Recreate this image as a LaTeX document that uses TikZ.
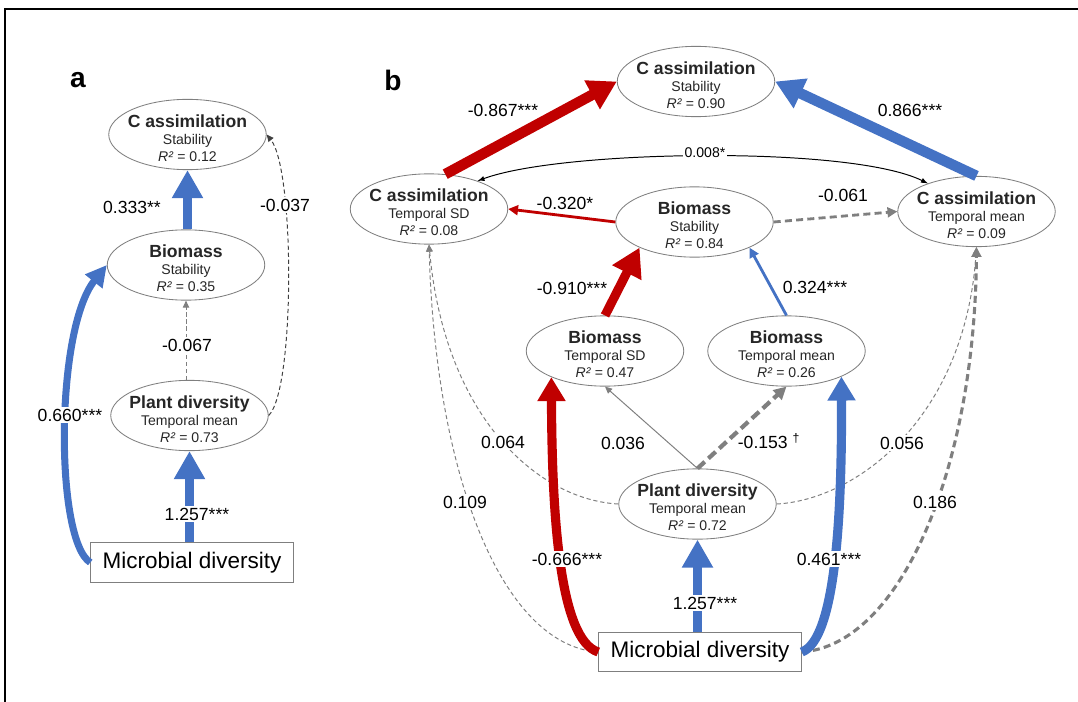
\documentclass[tikz,border=0pt]{standalone}
\usepackage{fontspec}
\setmainfont{Liberation Sans}
\usepackage{tikz}
\tikzset{>=latex}
\usetikzlibrary{arrows.meta, shapes.geometric}
\definecolor{semred}{HTML}{C00000}
\definecolor{semblue}{HTML}{4472C4}
\definecolor{semgray}{HTML}{7F7F7F}
\definecolor{semdark}{HTML}{404040}
\definecolor{semtext}{HTML}{262626}
\newcommand{\semlab}[3]{\rule{0pt}{14pt}{\bfseries\fontsize{12.5}{14}\selectfont #1}\\ #2\\ \textit{R²} = #3}
\tikzset{
	var/.style={ellipse, draw=semgray, line width=0.6pt, minimum width=112pt, minimum height=50pt,
		inner xsep=-4pt, inner ysep=-2pt, align=center, text=semtext, font=\fontsize{10}{12}\selectfont},
	exo/.style={rectangle, draw=semgray, line width=0.7pt, minimum width=144pt, minimum height=28pt,
		inner sep=0pt, font=\fontsize{16}{18}\selectfont},
	coef/.style={font=\fontsize{12.5}{14}\selectfont, inner sep=1pt},
	oncoef/.style={coef, fill=white},
	panel/.style={font=\bfseries\fontsize{20}{22}\selectfont},
	bigpos/.style={draw=semblue, line width=7pt, -{Triangle[width=21pt,length=20pt]}},
	bigneg/.style={draw=semred, line width=7.5pt, -{Triangle[width=22pt,length=20pt]}},
	curvpos/.style={draw=semblue, line width=6.5pt, -{Triangle[width=19pt,length=17pt]}},
	curvneg/.style={draw=semred, line width=6.5pt, -{Triangle[width=19pt,length=17pt]}},
	midpos/.style={draw=semblue, line width=2pt, -{Triangle[width=7pt,length=7pt]}},
	midneg/.style={draw=semred, line width=2pt, -{Triangle[width=7pt,length=7pt]}},
	midns/.style={draw=semgray, line width=2pt, dash pattern=on 5pt off 3pt, -{Triangle[width=7pt,length=7pt]}},
	thickns/.style={draw=semgray, line width=3pt, dash pattern=on 7pt off 3.5pt, -{Triangle[width=9pt,length=9pt]}},
	thinns/.style={draw=semgray, line width=0.7pt, dash pattern=on 3pt off 2pt, -{Triangle[width=4.5pt,length=5pt]}},
	thinsolid/.style={draw=semgray, line width=0.7pt, -{Triangle[width=4.5pt,length=5pt]}},
}

\begin{document}
\begin{tikzpicture}[x=0.025cm, y=-0.025cm]
	\useasboundingbox (0,0) rectangle (1078,702);
	\draw[line width=1.2pt] (1078,9) -- (5,9) -- (5,702);
	% panel a
	\node[panel] (pa) at (78,80) {a};
	\node[var] (caa) at (187.5,134.5) {\semlab{C assimilation}{Stability}{0.12}};
	\node[var] (bma) at (186,265) {\semlab{Biomass}{Stability}{0.35}};
	\node[var] (pda) at (189.5,415.5) {\semlab{Plant diversity}{Temporal mean}{0.73}};
	\node[exo] (mda) at (192,562.5) {Microbial diversity};
	\draw[bigpos] (caa.south |- bma.north) -- (caa.south);
	\draw[bigpos] (pda.south |- mda.north) -- (pda.south);
	\draw[thinns] (bma.south |- pda.north) -- (bma.south);
	\draw[thinns, draw=semdark] (pda.east) .. controls (295,390) and (295,170) .. (caa.east);
	\draw[curvpos, line width=5pt, -{Triangle[width=15pt,length=15pt]}] (mda.west) .. controls (55,540) and (55,330) .. (bma.west);
	\node[coef] (a1) at (132,207) {0.333**};
	\node[oncoef] (a2) at (187,345) {-0.067};
	\node[oncoef] (a3) at (285,205) {-0.037};
	\node[oncoef] (a4) at (70,415) {0.660***};
	\node[oncoef] (a5) at (197,514) {1.257***};
	% panel b
	\node[panel] (pb) at (393,80) {b};
	\node[var] (cas) at (696,81.5) {\semlab{C assimilation}{Stability}{0.90}};
	\node[var] (casd) at (429,209) {\semlab{C assimilation}{Temporal SD}{0.08}};
	\node[var] (bst) at (694.5,222) {\semlab{Biomass}{Stability}{0.84}};
	\node[var] (cam) at (976.5,211.5) {\semlab{C assimilation}{Temporal mean}{0.09}};
	\node[var] (bsd) at (605,351) {\semlab{Biomass}{Temporal SD}{0.47}};
	\node[var] (bmn) at (786.5,351) {\semlab{Biomass}{Temporal mean}{0.26}};
	\node[var] (pdb) at (697.5,504) {\semlab{Plant diversity}{Temporal mean}{0.72}};
	\node[exo] (mdb) at (700,652) {Microbial diversity};
	\draw[bigneg] (casd.65) -- (cas.west);
	\draw[bigpos, line width=7.5pt, -{Triangle[width=22pt,length=20pt]}] (cam.north) -- (cas.east);
	\draw[line width=0.7pt, <->] (casd.30) .. controls (560,150) and (850,145) .. (cam.150);
	\draw[midneg] (bst.west) -- (casd.east);
	\draw[midns] (bst.east) -- (cam.west);
	\draw[bigneg, line width=6.5pt] (bsd.north) -- (bst.205);
	\draw[midpos] (bmn.north) -- (bst.335);
	\draw[thinsolid] (pdb.north) -- (bsd.south);
	\draw[thickns] (pdb.north) -- (bmn.south);
	\draw[thinns] (pdb.west) .. controls (540,500) and (445,420) .. (casd.south);
	\draw[thinns] (mdb.west) .. controls (500,645) and (435,470) .. (casd.south);
	\draw[thinns] (pdb.east) .. controls (855,500) and (965,420) .. (cam.south);
	\draw[midns, line width=2.2pt] (mdb.east) .. controls (900,645) and (975,470) .. (cam.south);
	\draw[curvneg] (mdb.west) .. controls (560,640) and (552,520) .. (bsd.206);
	\draw[curvpos] (mdb.east) .. controls (835,640) and (842,520) .. (bmn.335);
	\draw[bigpos] (pdb.south |- mdb.north) -- (pdb.south);
	\node[coef] (b1) at (503,110) {-0.867***};
	\node[coef] (b2) at (910,110) {0.866***};
	\node[oncoef, font=\fontsize{10}{12}\selectfont] (b3) at (705,153) {0.008*};
	\node[coef] (b4) at (565,203) {-0.320*};
	\node[coef] (b5) at (843,195) {-0.061};
	\node[coef] (b6) at (572,288) {-0.910***};
	\node[coef] (b7) at (815,287) {0.324***};
	\node[oncoef] (b8) at (503,442) {0.064};
	\node[coef] (b9) at (623,443) {0.036};
	\node[coef] (b10) at (769,441) {-0.153 \textsuperscript{†}};
	\node[oncoef] (b11) at (902,443) {0.056};
	\node[oncoef] (b12) at (465,502) {0.109};
	\node[oncoef] (b13) at (935,502) {0.186};
	\node[oncoef] (b14) at (567,559) {-0.666***};
	\node[oncoef] (b15) at (829,559) {0.461***};
	\node[oncoef] (b16) at (705,603) {1.257***};
\end{tikzpicture}
\end{document}
